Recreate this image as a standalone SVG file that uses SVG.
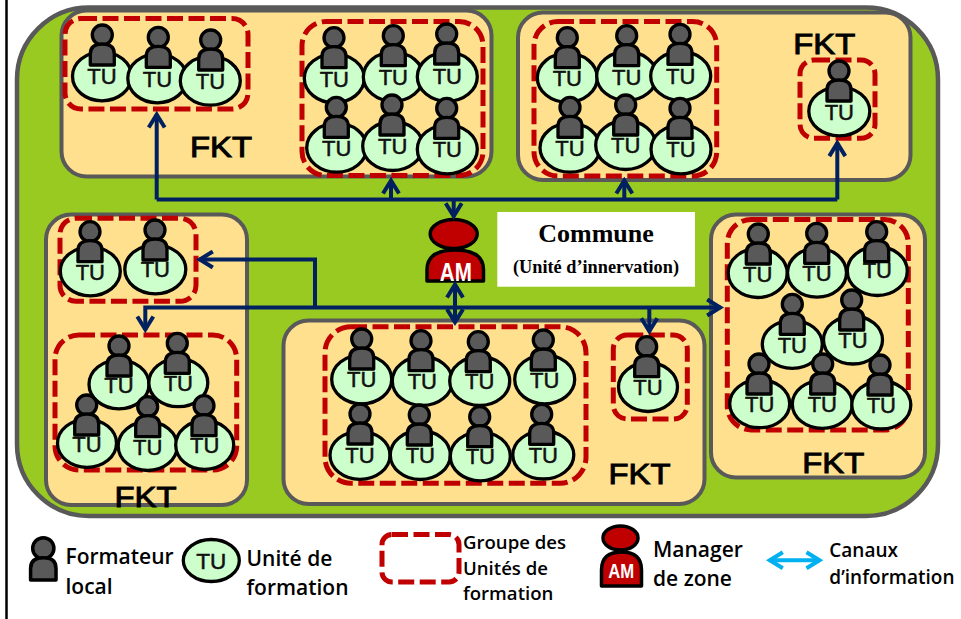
<svg xmlns="http://www.w3.org/2000/svg" width="961" height="619" viewBox="0 0 961 619">
<style>
.fkt{fill:#ffe08f;stroke:#595959;stroke-width:4}
.grp{fill:none;stroke:#c00000;stroke-width:5;stroke-dasharray:16 5.500}
.e{fill:#ccffcc;stroke:#000;stroke-width:3.300}
.tu{font-family:"Liberation Sans",Arial,sans-serif;font-size:22px;text-anchor:middle;fill:#111;stroke:#111;stroke-width:.5}
.lab{font-family:"Liberation Sans",Arial,sans-serif;font-size:30px;text-anchor:middle;fill:#000;stroke:#000;stroke-width:1}
.leg{font-family:"Open Sans","Liberation Sans",sans-serif;font-weight:600;fill:#000}
.con{fill:none;stroke:#002060;stroke-width:4}
.am{font-family:"Liberation Sans",Arial,sans-serif;font-weight:700;fill:#fff;text-anchor:middle}
</style>
<defs>
<g id="p"><circle cx="0" cy="-41" r="10" fill="#595959" stroke="#000" stroke-width="3.300"/><path d="M-12,-11V-22Q-12,-32 0,-32Q12,-32 12,-22V-11Z" fill="#595959" stroke="#000" stroke-width="3.300" stroke-linejoin="round"/></g>
<marker id="ah" viewBox="0 0 20 20" refX="15.500" refY="10" markerWidth="20" markerHeight="20" markerUnits="userSpaceOnUse" orient="auto-start-reverse"><path d="M2,2L15,10L2,18" fill="none" stroke="#002060" stroke-width="4" stroke-linejoin="miter"/></marker>
<marker id="ab" viewBox="0 0 20 20" refX="15.500" refY="10" markerWidth="20" markerHeight="20" markerUnits="userSpaceOnUse" orient="auto-start-reverse"><path d="M2,2L15,10L2,18" fill="none" stroke="#00b0f0" stroke-width="4" stroke-linejoin="miter"/></marker>
</defs>
<rect width="961" height="619" fill="#fff"/>
<path d="M6.500,0V619" stroke="#000" stroke-width="2.500"/>
<rect id="commune-area" x="17" y="7.500" width="921" height="508.500" rx="72" fill="#99ca22" stroke="#595959" stroke-width="4.500"/>

<g id="fkt-1">
<rect class="fkt" x="61.500" y="10.500" width="430" height="166" rx="25"/>
<rect class="grp" x="65" y="18.500" width="183" height="90.500" rx="16"/>
<rect class="grp" x="302" y="21.500" width="181" height="154" rx="24"/>
<text class="lab" x="221" y="156.500" textLength="62" lengthAdjust="spacingAndGlyphs">FKT</text>
<g><ellipse class="e" cx="102" cy="76.300" rx="29.500" ry="24.500"/><use href="#p" x="102.300" y="76"/><text class="tu" x="102" y="84">TU</text></g>
<g><ellipse class="e" cx="157.300" cy="78.300" rx="29.500" ry="24.500"/><use href="#p" x="158.300" y="78.300"/><text class="tu" x="157.500" y="86.700">TU</text></g>
<g><ellipse class="e" cx="210.300" cy="80.700" rx="30" ry="24.500"/><use href="#p" x="210.700" y="81"/><text class="tu" x="210.500" y="89.300">TU</text></g>
<g><ellipse class="e" cx="334.300" cy="78.300" rx="30" ry="24.500"/><use href="#p" x="334" y="78.700"/><text class="tu" x="334.300" y="86.700">TU</text></g>
<g><ellipse class="e" cx="393.300" cy="76.700" rx="30" ry="24.500"/><use href="#p" x="393.300" y="76.700"/><text class="tu" x="393.300" y="85.300">TU</text></g>
<g><ellipse class="e" cx="447.300" cy="76.700" rx="30" ry="24.500"/><use href="#p" x="446.700" y="75"/><text class="tu" x="447.300" y="84">TU</text></g>
<g><ellipse class="e" cx="336.700" cy="147.700" rx="30" ry="24.500"/><use href="#p" x="336.300" y="148.300"/><text class="tu" x="336.700" y="156">TU</text></g>
<g><ellipse class="e" cx="392.700" cy="146" rx="30" ry="24.500"/><use href="#p" x="392" y="146"/><text class="tu" x="392.700" y="154">TU</text></g>
<g><ellipse class="e" cx="447.300" cy="149.300" rx="30" ry="24.500"/><use href="#p" x="446.700" y="149.300"/><text class="tu" x="447.300" y="157.300">TU</text></g>
</g>

<g id="fkt-2">
<rect class="fkt" x="518" y="12.500" width="392.500" height="167.500" rx="25"/>
<rect class="grp" x="534" y="21.500" width="182.700" height="154.500" rx="24"/>
<rect class="grp" x="800" y="60" width="75" height="78.300" rx="14"/>
<text class="lab" x="824.300" y="54" textLength="62" lengthAdjust="spacingAndGlyphs">FKT</text>
<g><ellipse class="e" cx="567.300" cy="77.700" rx="30" ry="24.500"/><use href="#p" x="567.300" y="78.700"/><text class="tu" x="567.300" y="86">TU</text></g>
<g><ellipse class="e" cx="626.700" cy="76" rx="30" ry="24.500"/><use href="#p" x="626.700" y="76.700"/><text class="tu" x="626.700" y="85">TU</text></g>
<g><ellipse class="e" cx="680.700" cy="76" rx="30" ry="24.500"/><use href="#p" x="680" y="75.300"/><text class="tu" x="680.700" y="84">TU</text></g>
<g><ellipse class="e" cx="570" cy="147.700" rx="30" ry="24.500"/><use href="#p" x="570" y="148.300"/><text class="tu" x="570" y="156">TU</text></g>
<g><ellipse class="e" cx="625.700" cy="145" rx="30" ry="24.500"/><use href="#p" x="625.700" y="146"/><text class="tu" x="625.700" y="152.700">TU</text></g>
<g><ellipse class="e" cx="681" cy="149.300" rx="30" ry="24.500"/><use href="#p" x="680" y="149.300"/><text class="tu" x="681" y="157.300">TU</text></g>
<g><ellipse class="e" cx="839.300" cy="111.300" rx="30.500" ry="24.500"/><use href="#p" x="839" y="112"/><text class="tu" x="839.300" y="120">TU</text></g>
</g>

<g id="fkt-3">
<rect class="fkt" x="46" y="214.500" width="201" height="290.500" rx="25"/>
<rect class="grp" x="60" y="218.300" width="136" height="83" rx="16"/>
<rect class="grp" x="55" y="335" width="181.700" height="135" rx="24"/>
<text class="lab" x="145.500" y="507" textLength="62" lengthAdjust="spacingAndGlyphs">FKT</text>
<g><ellipse class="e" cx="90.300" cy="271.300" rx="30" ry="24.500"/><use href="#p" x="90" y="272.700"/><text class="tu" x="90.300" y="280">TU</text></g>
<g><ellipse class="e" cx="155.300" cy="269.300" rx="30.500" ry="24.500"/><use href="#p" x="155" y="271"/><text class="tu" x="155.300" y="276.700">TU</text></g>
<g><ellipse class="e" cx="119" cy="384.300" rx="30" ry="24.500"/><use href="#p" x="119" y="387"/><text class="tu" x="119" y="392.700">TU</text></g>
<g><ellipse class="e" cx="178.300" cy="382.700" rx="29.500" ry="24"/><use href="#p" x="177.300" y="384.300"/><text class="tu" x="178.300" y="390.700">TU</text></g>
<g><ellipse class="e" cx="87" cy="443.300" rx="29.500" ry="24"/><use href="#p" x="86.700" y="446"/><text class="tu" x="87" y="452.300">TU</text></g>
<g><ellipse class="e" cx="147.700" cy="446" rx="29.500" ry="24.500"/><use href="#p" x="147.700" y="447.700"/><text class="tu" x="147.700" y="455">TU</text></g>
<g><ellipse class="e" cx="204.700" cy="445" rx="29" ry="24.500"/><use href="#p" x="204" y="446.700"/><text class="tu" x="204.700" y="453.300">TU</text></g>
</g>

<g id="fkt-4">
<rect class="fkt" x="283.500" y="320.500" width="421" height="183.500" rx="25"/>
<rect class="grp" x="325" y="326.700" width="261" height="156.600" rx="26"/>
<rect class="grp" x="613.300" y="335" width="74" height="84" rx="14"/>
<text class="lab" x="639.500" y="483.500" textLength="62" lengthAdjust="spacingAndGlyphs">FKT</text>
<g><ellipse class="e" cx="361.700" cy="379.300" rx="30" ry="24.500"/><use href="#p" x="361.700" y="380"/><text class="tu" x="361.700" y="387.300">TU</text></g>
<g><ellipse class="e" cx="422.300" cy="381" rx="30" ry="24.500"/><use href="#p" x="421" y="381.700"/><text class="tu" x="422.300" y="389">TU</text></g>
<g><ellipse class="e" cx="479.700" cy="381" rx="30" ry="24.500"/><use href="#p" x="478.300" y="382.700"/><text class="tu" x="479.700" y="389">TU</text></g>
<g><ellipse class="e" cx="544.700" cy="379.300" rx="30" ry="24.500"/><use href="#p" x="543.300" y="381"/><text class="tu" x="544.700" y="388.300">TU</text></g>
<g><ellipse class="e" cx="360" cy="455.300" rx="30" ry="24"/><use href="#p" x="360" y="455"/><text class="tu" x="360" y="462.700">TU</text></g>
<g><ellipse class="e" cx="420.300" cy="455" rx="30" ry="24.500"/><use href="#p" x="419.300" y="456"/><text class="tu" x="420.300" y="463.300">TU</text></g>
<g><ellipse class="e" cx="480.300" cy="456.300" rx="30" ry="24.500"/><use href="#p" x="479.700" y="457.700"/><text class="tu" x="480.300" y="464">TU</text></g>
<g><ellipse class="e" cx="543.300" cy="455" rx="30.500" ry="24"/><use href="#p" x="541.700" y="455.300"/><text class="tu" x="543.300" y="462.700">TU</text></g>
<g><ellipse class="e" cx="648" cy="387" rx="29.500" ry="24.500"/><use href="#p" x="646.700" y="387.700"/><text class="tu" x="648" y="395">TU</text></g>
</g>

<g id="fkt-5">
<rect class="fkt" x="711" y="214.500" width="214" height="263" rx="25"/>
<rect class="grp" x="727.300" y="219.500" width="181" height="210.500" rx="24"/>
<text class="lab" x="833.300" y="473.300" textLength="62" lengthAdjust="spacingAndGlyphs">FKT</text>
<g><ellipse class="e" cx="757.700" cy="273" rx="29.500" ry="24.500"/><use href="#p" x="758.300" y="275"/><text class="tu" x="757.700" y="281.700">TU</text></g>
<g><ellipse class="e" cx="817" cy="272.700" rx="29.500" ry="24.500"/><use href="#p" x="816.700" y="274.300"/><text class="tu" x="817" y="281">TU</text></g>
<g><ellipse class="e" cx="877.300" cy="271" rx="30" ry="24.500"/><use href="#p" x="876.700" y="272.700"/><text class="tu" x="877.300" y="278.300">TU</text></g>
<g><ellipse class="e" cx="792.300" cy="344.300" rx="30" ry="24"/><use href="#p" x="792.300" y="345.300"/><text class="tu" x="792.300" y="352.700">TU</text></g>
<g><ellipse class="e" cx="853" cy="340" rx="29.500" ry="24"/><use href="#p" x="851.700" y="341"/><text class="tu" x="853" y="347.700">TU</text></g>
<g><ellipse class="e" cx="759.700" cy="403.700" rx="30" ry="24"/><use href="#p" x="759" y="405"/><text class="tu" x="759.700" y="411.700">TU</text></g>
<g><ellipse class="e" cx="822.300" cy="404.300" rx="30" ry="24"/><use href="#p" x="822.700" y="405"/><text class="tu" x="822.300" y="411.700">TU</text></g>
<g><ellipse class="e" cx="881.300" cy="405" rx="29.500" ry="24"/><use href="#p" x="880" y="406"/><text class="tu" x="881.300" y="413.300">TU</text></g>
</g>

<g id="commune-label">
<rect x="497.300" y="212" width="197.700" height="74.700" fill="#fff"/>
<text x="596" y="241.700" font-family="'Liberation Serif',serif" font-weight="700" font-size="26" text-anchor="middle">Commune</text>
<text x="596" y="273" font-family="'Liberation Serif',serif" font-weight="700" font-size="18.300" text-anchor="middle">(Unité d’innervation)</text>
</g>

<g id="am">
<ellipse cx="453.700" cy="234" rx="23.500" ry="14.500" fill="#c00000" stroke="#000" stroke-width="3.500"/>
<path d="M427,281V270Q427,250 455,250Q483.500,250 483.500,270V281Z" fill="#c00000" stroke="#000" stroke-width="3.500" stroke-linejoin="round"/>
<text class="am" x="455.800" y="280.700" font-size="25" textLength="32" lengthAdjust="spacingAndGlyphs">AM</text>
</g>

<g id="connectors">
<path class="con" d="M156.700,199.500H837.300"/>
<path class="con" d="M156.700,199.500V114" marker-end="url(#ah)"/>
<path class="con" d="M391,199.500V180" marker-end="url(#ah)"/>
<path class="con" d="M624.300,199.500V180" marker-end="url(#ah)"/>
<path class="con" d="M837.300,199.500V142.600" marker-end="url(#ah)"/>
<path class="con" d="M453.700,199.500V216.700" marker-end="url(#ah)"/>
<path class="con" d="M455,284V322.700" marker-start="url(#ah)" marker-end="url(#ah)"/>
<path class="con" d="M145.300,330V307.500H720.700" marker-start="url(#ah)" marker-end="url(#ah)"/>
<path class="con" d="M315,307.500V259.500H199.300" marker-end="url(#ah)"/>
<path class="con" d="M649.300,307.500V331.700" marker-end="url(#ah)"/>
</g>

<g id="legend-formateur">
<use href="#p" transform="translate(43.300,591.700) scale(1.06)"/>
<text class="leg" x="65.500" y="564" font-size="21">Formateur</text>
<text class="leg" x="65.500" y="594" font-size="21">local</text>
</g>
<g id="legend-unite">
<ellipse class="e" cx="211.300" cy="560.500" rx="28" ry="21"/>
<text class="tu" x="211.300" y="569" style="font-size:22.500px">TU</text>
<text class="leg" x="246.500" y="566" font-size="21">Unité de</text>
<text class="leg" x="246.500" y="595" font-size="21">formation</text>
</g>
<g id="legend-groupe">
<rect class="grp" x="382" y="534.500" width="77" height="47.500" rx="10"/>
<text class="leg" x="463" y="549" font-size="18.600">Groupe des</text>
<text class="leg" x="463" y="574.700" font-size="18.600">Unités de</text>
<text class="leg" x="463" y="600" font-size="18.600">formation</text>
</g>
<g id="legend-manager">
<ellipse cx="620.500" cy="538" rx="17.500" ry="12" fill="#c00000" stroke="#000" stroke-width="3.500"/>
<path d="M601.500,586V570Q601.500,552 621.500,552Q641.500,552 641.500,570V586Z" fill="#c00000" stroke="#000" stroke-width="3.500" stroke-linejoin="round"/>
<text class="am" x="621.300" y="578.300" font-size="19.500" textLength="26" lengthAdjust="spacingAndGlyphs">AM</text>
<text class="leg" x="653" y="557" font-size="21">Manager</text>
<text class="leg" x="653" y="586" font-size="21">de zone</text>
</g>
<g id="legend-canaux">
<path d="M769.300,560.300H820" fill="none" stroke="#00b0f0" stroke-width="4" marker-start="url(#ab)" marker-end="url(#ab)"/>
<text class="leg" x="829.300" y="557.300" font-size="19">Canaux</text>
<text class="leg" x="829.300" y="584" font-size="19">d’information</text>
</g>
</svg>
